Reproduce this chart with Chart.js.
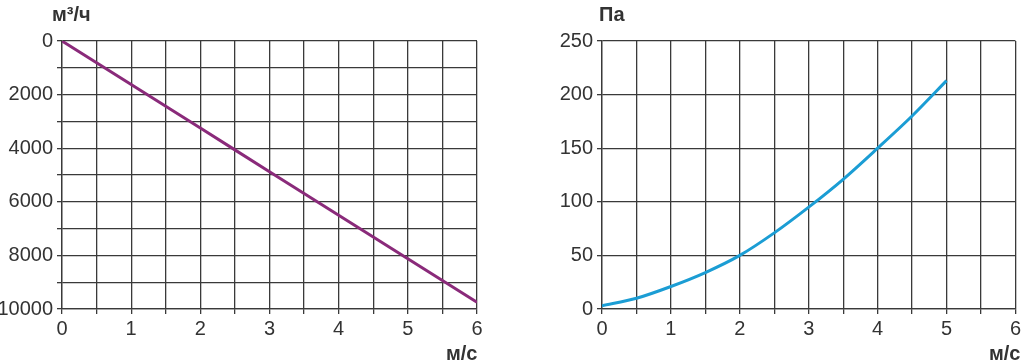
<!DOCTYPE html>
<html>
<head>
<meta charset="utf-8">
<script src="https://cdn.jsdelivr.net/npm/chart.js@4/dist/chart.umd.min.js"></script>
<style>
  html, body { margin: 0; padding: 0; background: #fff; }
  .box { position: absolute; top: 0; width: 512px; height: 361px; }
  #leftBox { left: 0; }
  #rightBox { left: 512px; }
</style>
</head>
<body>
<div class="box" id="leftBox"><canvas id="flowChart"></canvas></div>
<div class="box" id="rightBox"><canvas id="pressureChart"></canvas></div>
<script>
/* --------------- Data --------------------- */

const flowSpeed = [0, 1, 2, 3, 4, 5, 6];
const flowValues = [0, 1625, 3250, 4875, 6500, 8125, 9750];

const pressureSpeed = [0, 0.5, 1, 1.5, 2, 2.5, 3, 3.5, 4, 4.5, 5];
const pressureValues = [3, 10, 21, 34, 50, 71, 95, 121, 150, 180, 213];

const flowUnit = "м³/ч";
const pressureUnit = "Па";
const speedUnit = "м/с";

/* --------------- Common Styles --------------------- */

const gridColor = "#3a3a3a";
const tickFont = { family: "'Liberation Sans', Arial, sans-serif", size: 20 };

// draws the unit labels (top of y axis, end of x axis)
const unitLabels = {
  id: "unitLabels",
  afterDraw(chart, args, opts) {
    const ctx = chart.ctx;
    ctx.save();
    ctx.font = "bold 20px 'Liberation Sans', Arial, sans-serif";
    ctx.fillStyle = "#333";
    ctx.textBaseline = "alphabetic";
    ctx.textAlign = "left";
    ctx.fillText(opts.yUnit, opts.yX, 21);
    ctx.fillText(speedUnit, opts.xX, 360);
    ctx.restore();
  },
};

function makeChart(canvas, speeds, values, color, yOpts, leftWidth, rightPad, units) {
  return new Chart(canvas, {
    type: "line",
    plugins: [unitLabels],
    data: {
      datasets: [
        {
          data: speeds.map((s, i) => ({ x: s, y: values[i] })),
          borderColor: color,
          borderWidth: 3,
          pointRadius: 0,
          tension: 0.3,
          fill: false,
        },
      ],
    },
    options: {
      responsive: true,
      maintainAspectRatio: false,
      animation: false,
      layout: { padding: { top: 41, right: rightPad, left: 0, bottom: 0 } },
      plugins: {
        legend: { display: false },
        tooltip: { enabled: false },
        unitLabels: units,
      },
      scales: {
        x: {
          type: "linear",
          min: 0,
          max: 6,
          afterFit: (s) => { s.height = 52; },
          grid: { color: gridColor, lineWidth: 1.3, tickLength: 5 },
          border: { color: gridColor, width: 1.3 },
          ticks: {
            stepSize: 0.5,
            autoSkip: false,
            maxRotation: 0,
            padding: 3,
            color: "#333",
            font: tickFont,
            callback: (v) => (Number.isInteger(v) ? v : ""),
          },
        },
        y: Object.assign(
          {
            afterFit: (s) => { s.width = leftWidth; },
            grid: { color: gridColor, lineWidth: 1.3, tickLength: 5 },
            border: { color: gridColor, width: 1.3 },
          },
          yOpts
        ),
      },
    },
  });
}

/* --------------- Flow Chart --------------------- */

makeChart(
  document.getElementById("flowChart"),
  flowSpeed,
  flowValues,
  "#8a2a7a",
  {
    min: 0,
    max: 10000,
    reverse: true,
    ticks: {
      stepSize: 1000,
      autoSkip: false,
      padding: 4,
      color: "#333",
      font: tickFont,
      callback: (v) => (v % 2000 === 0 ? v : ""),
    },
  },
  62,
  35,
  { yUnit: flowUnit, yX: 52, xX: 446 }
);

/* --------------- Pressure Chart --------------------- */

makeChart(
  document.getElementById("pressureChart"),
  pressureSpeed,
  pressureValues,
  "#1b9dd4",
  {
    min: 0,
    max: 250,
    ticks: {
      stepSize: 50,
      autoSkip: false,
      padding: 4,
      color: "#333",
      font: tickFont,
    },
  },
  90,
  8,
  { yUnit: pressureUnit, yX: 87, xX: 477 }
);
</script>
</body>
</html>
